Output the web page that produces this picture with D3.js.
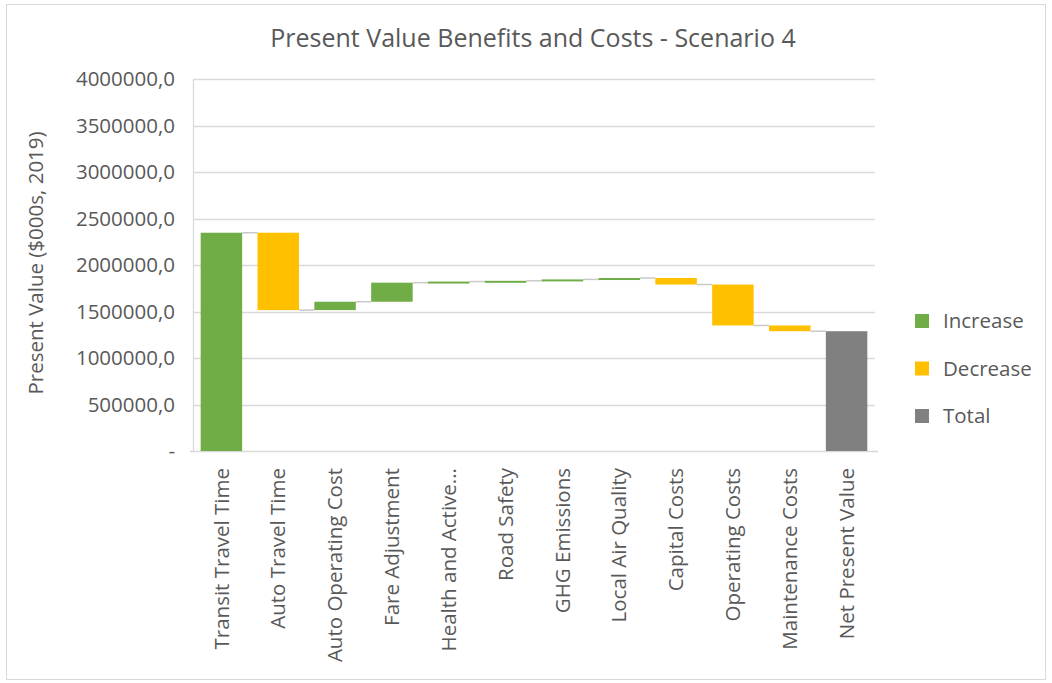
<!DOCTYPE html>
<html>
<head>
<meta charset="utf-8">
<script src="https://cdn.jsdelivr.net/npm/d3@7"></script>
<style>
  html, body { margin: 0; padding: 0; background: #fff; }
  svg { display: block; font-family: "Open Sans", "Noto Sans", sans-serif; }
</style>
</head>
<body>
<svg id="chart" width="1052" height="683"></svg>
<script>
// Waterfall steps: each benefit or cost moves the running total; the last entry is the total
const categories = [
  "Transit Travel Time", "Auto Travel Time", "Auto Operating Cost", "Fare Adjustment",
  "Health and Active...", "Road Safety", "GHG Emissions", "Local Air Quality",
  "Capital Costs", "Operating Costs", "Maintenance Costs", "Net Present Value"
];
const changes = [
  2347000, -832000, 90000, 205000,
  12000, 8000, 15000, 15000,
  -70000, -440000, -62000, 1288000
];
const kinds = [
  "Increase", "Decrease", "Increase", "Increase",
  "Increase", "Increase", "Increase", "Increase",
  "Decrease", "Decrease", "Decrease", "Total"
];
const yTicks = [0, 500000, 1000000, 1500000, 2000000, 2500000, 3000000, 3500000, 4000000];
const yTickLabels = ["-", "500000,0", "1000000,0", "1500000,0", "2000000,0",
                     "2500000,0", "3000000,0", "3500000,0", "4000000,0"];
const legendItems = ["Increase", "Decrease", "Total"];

const colors = { Increase: "#70AD47", Decrease: "#FFC000", Total: "#808080" };
const textColor = "#595959";
const gridColor = "#D9D9D9";
const labelSize = "20.5px";

// Build start/end of each floating bar from the running total
let running = 0;
const bars = categories.map((c, i) => {
  let start, end;
  if (kinds[i] === "Total") { start = 0; end = changes[i]; running = end; }
  else { start = running; end = running + changes[i]; running = end; }
  return { cat: c, kind: kinds[i], start, end };
});

const svg = d3.select("#chart");

// Outer chart frame
svg.append("rect")
  .attr("x", 6.5).attr("y", 4.5).attr("width", 1039).attr("height", 675)
  .attr("fill", "#fff").attr("stroke", "#D9D9D9").attr("stroke-width", 1);

const plot = { left: 193, right: 875, top: 79, bottom: 451 };

const x = d3.scaleBand().domain(categories)
  .range([plot.left, plot.right]).paddingInner(0.27).paddingOuter(0.135);
const y = d3.scaleLinear().domain([0, 4000000]).range([plot.bottom, plot.top]);

// Title
svg.append("text")
  .attr("x", 533).attr("y", 47)
  .attr("text-anchor", "middle")
  .attr("fill", textColor)
  .style("font-size", "25px")
  .text("Present Value Benefits and Costs - Scenario 4");

// Horizontal gridlines
svg.append("g").selectAll("line").data(yTicks.slice(1)).join("line")
  .attr("x1", plot.left).attr("x2", plot.right)
  .attr("y1", d => Math.round(y(d)) + 0.5).attr("y2", d => Math.round(y(d)) + 0.5)
  .attr("stroke", gridColor).attr("stroke-width", 1.3);

// Value axis
const yAxis = d3.axisLeft(y).tickValues(yTicks)
  .tickFormat((d, i) => yTickLabels[i]).tickSize(0).tickPadding(18);
const gy = svg.append("g").attr("transform", `translate(${plot.left},0)`).call(yAxis);
gy.select(".domain").attr("stroke", gridColor).attr("stroke-width", 1.3);
gy.selectAll("text").attr("fill", textColor).style("font-size", labelSize)
  .style("font-family", "'Open Sans', 'Noto Sans', sans-serif");

// Category axis
const xAxis = d3.axisBottom(x).tickSize(0).tickPadding(0);
const gx = svg.append("g").attr("transform", `translate(0,${plot.bottom})`).call(xAxis);
gx.select(".domain").attr("stroke", gridColor).attr("stroke-width", 1.3)
  .attr("d", `M${plot.left - 3},0.5H${plot.right + 3}`);
gx.selectAll("text")
  .attr("fill", textColor).style("font-size", labelSize)
  .style("font-family", "'Open Sans', 'Noto Sans', sans-serif")
  .attr("text-anchor", "end")
  .attr("transform", "translate(0,17) rotate(-90)")
  .attr("x", 0).attr("y", 0).attr("dy", "0.35em");

// Connector lines between consecutive bars at each running level
const conn = [];
for (let i = 0; i < bars.length - 1; i++) {
  conn.push({ x1: x(bars[i].cat) + x.bandwidth(), x2: x(bars[i + 1].cat), v: bars[i].end });
}
svg.append("g").selectAll("line").data(conn).join("line")
  .attr("x1", d => d.x1).attr("x2", d => d.x2)
  .attr("y1", d => y(d.v)).attr("y2", d => y(d.v))
  .attr("stroke", "#C9C9C9").attr("stroke-width", 1.5);

// Floating bars
svg.append("g").selectAll("rect").data(bars).join("rect")
  .attr("x", d => x(d.cat))
  .attr("width", x.bandwidth())
  .attr("y", d => y(Math.max(d.start, d.end)))
  .attr("height", d => Math.max(2, Math.abs(y(d.start) - y(d.end))))
  .attr("fill", d => colors[d.kind]);

// Y axis title
svg.append("text")
  .attr("transform", "translate(43,263) rotate(-90)")
  .attr("text-anchor", "middle")
  .attr("fill", textColor)
  .style("font-size", labelSize)
  .text("Present Value ($000s, 2019)");

// Legend
const lg = svg.append("g").selectAll("g").data(legendItems).join("g")
  .attr("transform", (d, i) => `translate(915,${321 + i * 47.5})`);
lg.append("rect").attr("x", 0).attr("y", -7).attr("width", 14).attr("height", 14)
  .attr("fill", d => colors[d]);
lg.append("text").attr("x", 28).attr("y", 0).attr("dy", "0.35em")
  .attr("fill", textColor).style("font-size", labelSize).text(d => d);
</script>
</body>
</html>
